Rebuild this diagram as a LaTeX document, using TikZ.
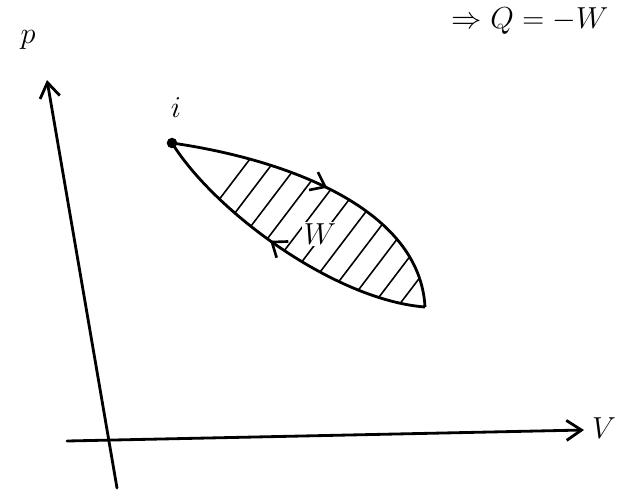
\documentclass[tikz,border=0pt]{standalone}
\usepackage{amsmath}
\usetikzlibrary{arrows.meta, decorations.markings}
\tikzset{
    axis/.style={line width=1.6pt, -{Straight Barb[length=3mm, width=4mm]}, line cap=round},
    cyclepath/.style={line width=1.6pt, line join=round},
    flowmark/.style={postaction={decorate}, decoration={markings,
        mark=at position #1 with {\arrow{Straight Barb[length=2.6mm, width=4mm, line width=1.5pt]}}}},
    hatch/.style={line width=0.9pt},
    dot/.style={circle, fill, inner sep=0pt, minimum size=6pt},
    lbl/.style={font=\LARGE}
}

\begin{document}
\begin{tikzpicture}[x=0.02cm, y=-0.02cm]
    \useasboundingbox (0,0) rectangle (620,491);

    % axes
    \coordinate (ybot) at (117,488);
    \coordinate (ytop) at (47,80);
    \coordinate (xleft) at (67,441);
    \coordinate (xright) at (584,430);
    \draw[axis] (ybot) -- (ytop);
    \draw[axis] (xleft) -- (xright);
    \node[lbl] (plabel) at (28,40) {$p$};
    \node[lbl] (vlabel) at (604,428) {$V$};

    % the cycle
    \node[dot] (i) at (172,143) {};
    \node[lbl] (ilabel) at (176,108) {$i$};
    \coordinate (e) at (425,307);

    \begin{scope}
        \clip (i.center) .. controls (290,160) and (420,210) .. (e)
              .. controls (335,300) and (215,212) .. (i.center) -- cycle;
        \foreach \s in {120,146,...,470}
            \draw[hatch] (\s,330) -- ++(190,-250);
    \end{scope}

    \draw[cyclepath, flowmark=0.5] (i.center) .. controls (290,160) and (420,210) .. (e);
    \draw[cyclepath, flowmark=0.55] (e) .. controls (335,300) and (215,212) .. (i.center);

    \node[lbl, fill=white, inner sep=1pt] (wlabel) at (320,234) {$W$};

    % remark at the top
    \node[font=\LARGE, anchor=base] (remark) at (530,28) {$\Rightarrow Q=-W$};
\end{tikzpicture}
\end{document}
